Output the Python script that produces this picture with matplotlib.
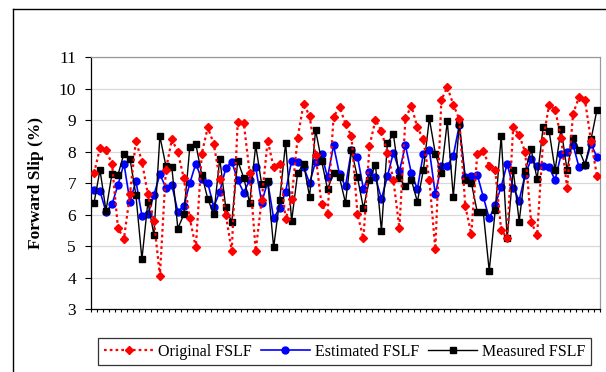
import numpy as np
from matplotlib import pyplot as plt
from matplotlib.lines import Line2D

plt.rcParams["font.family"] = ["Liberation Serif", "DejaVu Serif"]

original_fslf = [
    7.31, 8.12, 8.04, 7.62, 5.57, 5.24, 6.65, 8.35, 7.68, 6.65,
    5.81, 4.07, 7.41, 8.39, 7.99, 7.15, 5.88, 4.96, 7.94, 8.77,
    8.24, 7.13, 5.99, 4.86, 8.94, 8.92, 7.31, 4.86, 6.46, 8.35,
    7.50, 7.62, 5.86, 6.50, 8.44, 9.52, 9.13, 7.89, 6.33, 6.01,
    9.10, 9.42, 8.88, 8.49, 6.01, 5.25, 8.17, 9.01, 8.65, 7.97,
    7.10, 5.57, 9.05, 9.45, 8.77, 8.39, 7.10, 4.91, 9.63, 10.05,
    9.49, 9.03, 6.28, 5.39, 7.92, 8.02, 7.55, 7.41, 5.51, 5.27,
    8.77, 8.52, 7.99, 5.76, 5.36, 8.35, 9.49, 9.33, 8.44, 6.86,
    9.20, 9.73, 9.63, 8.33, 7.22,
]

estimated_fslf = [
    6.78, 6.75, 6.09, 6.33, 6.94, 7.62, 6.41, 7.07, 5.97, 6.01,
    6.62, 7.28, 6.86, 6.94, 6.09, 6.28, 7.00, 7.62, 7.12, 7.00,
    6.25, 6.73, 7.47, 7.68, 7.10, 6.70, 7.10, 7.50, 6.38, 7.05,
    5.88, 6.22, 6.73, 7.71, 7.68, 7.52, 7.00, 7.68, 7.92, 7.18,
    8.20, 7.28, 6.90, 8.05, 7.84, 6.81, 7.34, 7.18, 6.50, 7.22,
    7.97, 7.38, 8.20, 7.31, 6.81, 7.94, 8.05, 6.65, 7.55, 7.55,
    7.87, 8.84, 7.18, 7.23, 7.27, 6.57, 5.88, 6.31, 6.89, 7.62,
    6.86, 6.45, 7.27, 7.75, 7.55, 7.55, 7.50, 7.10, 7.91, 7.99,
    8.22, 7.50, 7.59, 8.25, 7.82,
]

measured_fslf = [
    6.37, 7.42, 6.13, 7.30, 7.26, 7.94, 7.78, 6.62, 4.59, 6.41,
    5.36, 8.49, 7.55, 7.50, 5.56, 6.01, 8.15, 8.24, 7.26, 6.50,
    6.01, 7.78, 6.23, 5.76, 7.71, 7.17, 6.37, 8.20, 6.97, 7.07,
    4.96, 6.46, 8.28, 5.80, 7.31, 7.62, 6.57, 8.68, 7.71, 6.81,
    7.31, 7.18, 6.37, 8.04, 7.18, 6.20, 7.11, 7.59, 5.48, 8.28,
    8.55, 7.15, 6.90, 7.10, 6.41, 7.41, 9.05, 7.94, 7.31, 8.96,
    6.57, 8.86, 7.11, 7.02, 6.09, 6.09, 4.22, 6.14, 8.49, 5.25,
    7.43, 5.78, 7.38, 8.07, 7.13, 8.77, 8.65, 7.41, 8.73, 7.41,
    8.44, 8.06, 7.59, 8.39, 9.33,
]

y_ticks = [3, 4, 5, 6, 7, 8, 9, 10, 11]

samples = np.arange(len(measured_fslf))

fig = plt.figure(figsize=(6.06, 3.72), dpi=100)
ax = fig.add_axes([0.1502, 0.1685, 0.8399, 0.6783])

ax.plot(samples, estimated_fslf, color="#0000ff", lw=1.2, marker="o",
        markersize=5.0, label="Estimated FSLF", zorder=3)
ax.plot(samples, measured_fslf, color="black", lw=1.0, marker="s",
        markersize=5.0, label="Measured FSLF", zorder=4)
ax.plot(samples, original_fslf, color="#ff0000", lw=1.6,
        linestyle=(0, (1.2, 1.4)), marker="D", markersize=4.4,
        label="Original FSLF", zorder=5)

ax.set_xlim(-0.5, len(samples) - 0.5)
ax.set_ylim(3, 11)
ax.set_yticks(y_ticks)
ax.set_xticks(np.arange(len(samples) + 1) - 0.5)
ax.set_xticklabels([])
ax.tick_params(axis="x", length=2, width=0.8, direction="out")
ax.tick_params(axis="y", length=4.3, width=0.8, pad=6.5, labelsize=12.5)
ax.grid(axis="y", color="#d9d9d9", lw=0.9, zorder=0)
ax.set_axisbelow(True)

for side in ("top", "right"):
    ax.spines[side].set_color("#999999")
    ax.spines[side].set_linewidth(0.9)
ax.spines["left"].set_linewidth(0.9)
ax.spines["bottom"].set_linewidth(0.9)

ax.set_ylabel("Forward Slip (%)", fontsize=12.5, fontweight="bold")
ax.yaxis.set_label_coords(-0.092, 0.5)

handles, labels = ax.get_legend_handles_labels()
order = [2, 0, 1]
leg = ax.legend(
    [handles[i] for i in order],
    [labels[i] for i in order],
    loc="center",
    bbox_to_anchor=(0.5688, 0.0548),
    bbox_transform=fig.transFigure,
    ncol=3,
    fontsize=11.5,
    frameon=True,
    fancybox=False,
    edgecolor="black",
    handlelength=3.1,
    handletextpad=0.3,
    columnspacing=0.55,
    borderpad=0.35,
    borderaxespad=0,
)
leg.get_frame().set_linewidth(0.9)

# outer chart frame (cut off at the right and bottom)
fig.add_artist(Line2D([0.0215, 0.0215], [0.0, 0.9758],
                      transform=fig.transFigure, color="black", lw=1.0))
fig.add_artist(Line2D([0.0215, 1.0], [0.9758, 0.9758],
                      transform=fig.transFigure, color="black", lw=1.0))

fig.savefig("out.png", dpi=100)
